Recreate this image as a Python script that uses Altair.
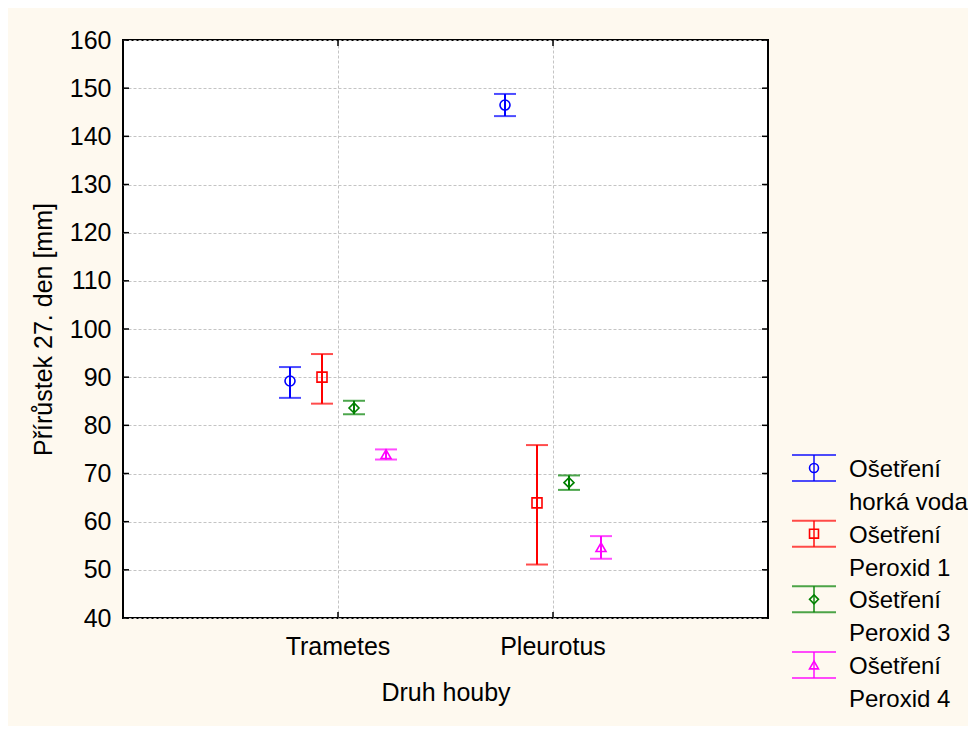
import altair as alt
import pandas as pd

species = ["Trametes", "Pleurotus"]
series = ["Ošetření horká voda", "Ošetření Peroxid 1", "Ošetření Peroxid 3", "Ošetření Peroxid 4"]
legend_line1 = ["Ošetření", "Ošetření", "Ošetření", "Ošetření"]
legend_line2 = ["horká voda", "Peroxid 1", "Peroxid 3", "Peroxid 4"]

mean_trametes = [89.2, 90.0, 83.6, 74.0]
low_trametes = [85.7, 84.5, 82.3, 72.9]
high_trametes = [92.1, 94.8, 85.1, 75.0]

mean_pleurotus = [146.5, 63.9, 68.1, 54.7]
low_pleurotus = [144.2, 51.1, 66.6, 52.3]
high_pleurotus = [148.8, 75.9, 69.6, 57.0]

y_ticks = [40, 50, 60, 70, 80, 90, 100, 110, 120, 130, 140, 150, 160]

colors = ["#0000FF", "#FF0000", "#008000", "#FF00FF"]
shapes = ["circle", "square", "diamond", "triangle-up"]

FONT = "Liberation Sans"
FS = 25
LFS = 24
W, H = 645, 578
BAND = W / 3.0

rows = []
for i, s in enumerate(series):
    rows.append({"druh": "Trametes", "serie": s, "mean": mean_trametes[i],
                 "lo": low_trametes[i], "hi": high_trametes[i]})
    rows.append({"druh": "Pleurotus", "serie": s, "mean": mean_pleurotus[i],
                 "lo": low_pleurotus[i], "hi": high_pleurotus[i]})
df = pd.DataFrame(rows)

x_scale = alt.Scale(domain=species, paddingInner=0, paddingOuter=0.5)
x_enc = alt.X("druh:N", sort=species, scale=x_scale,
              axis=alt.Axis(title="Druh houby", labelAngle=0, grid=True,
                            gridColor="#c4c4c4", gridDash=[3, 2], gridWidth=1,
                            tickSize=0, domain=False, labelPadding=16,
                            titlePadding=21))
xo_enc = alt.XOffset("serie:N", sort=series,
                     scale=alt.Scale(domain=series, paddingInner=0, paddingOuter=0,
                                     range=[BAND / 2 - 64, BAND / 2 + 64]))
color_enc = alt.Color("serie:N", scale=alt.Scale(domain=series, range=colors), legend=None)
shape_enc = alt.Shape("serie:N", scale=alt.Scale(domain=series, range=shapes), legend=None)
y_scale = alt.Scale(domain=[40, 160], nice=False, zero=False)

base = alt.Chart(df)

bars = base.mark_rule(strokeWidth=2).encode(
    x=x_enc, xOffset=xo_enc,
    y=alt.Y("lo:Q", scale=y_scale,
            axis=alt.Axis(title="Přírůstek 27. den [mm]", values=y_ticks, grid=True,
                          gridColor="#c4c4c4", gridDash=[3, 2], gridWidth=1,
                          tickSize=0, domain=False, labelPadding=12, titlePadding=13)),
    y2="hi:Q",
    color=color_enc,
)
cap_lo = base.mark_tick(orient="horizontal", size=22, thickness=2).encode(
    x=x_enc, xOffset=xo_enc, y=alt.Y("lo:Q", scale=y_scale), color=color_enc)
cap_hi = base.mark_tick(orient="horizontal", size=22, thickness=2).encode(
    x=x_enc, xOffset=xo_enc, y=alt.Y("hi:Q", scale=y_scale), color=color_enc)
points = base.mark_point(filled=False, size=100, strokeWidth=1.6, opacity=1).encode(
    x=x_enc, xOffset=xo_enc, y=alt.Y("mean:Q", scale=y_scale),
    color=color_enc, shape=shape_enc)

# inward axis ticks (mirrored on all sides)
ydf = pd.DataFrame({"v": y_ticks})
yt_left = alt.Chart(ydf).mark_rule(color="black", strokeWidth=1.5).encode(
    y=alt.Y("v:Q", scale=y_scale), x=alt.value(0), x2=alt.value(6))
yt_right = alt.Chart(ydf).mark_rule(color="black", strokeWidth=1.5).encode(
    y=alt.Y("v:Q", scale=y_scale), x=alt.value(W - 6), x2=alt.value(W))
xdf = pd.DataFrame({"druh": species})
xt_bottom = alt.Chart(xdf).mark_rule(color="black", strokeWidth=1.5).encode(
    x=alt.X("druh:N", sort=species, scale=x_scale),
    y=alt.value(H - 6), y2=alt.value(H))
xt_top = alt.Chart(xdf).mark_rule(color="black", strokeWidth=1.5).encode(
    x=alt.X("druh:N", sort=species, scale=x_scale),
    y=alt.value(0), y2=alt.value(6))

main = alt.layer(bars, cap_lo, cap_hi, points, yt_left, yt_right, xt_bottom, xt_top).properties(
    width=W, height=H,
    view=alt.ViewBackground(fill="white", stroke="black", strokeWidth=2),
)

# custom legend panel
ldf = pd.DataFrame({"serie": series, "l1": legend_line1, "l2": legend_line2})
ly = alt.Y("serie:N", sort=series,
           scale=alt.Scale(type="point", domain=series, range=[428, 625], padding=0),
           axis=None)
lcolor = alt.Color("serie:N", scale=alt.Scale(domain=series, range=colors), legend=None)
lshape = alt.Shape("serie:N", scale=alt.Scale(domain=series, range=shapes), legend=None)
lbase = alt.Chart(ldf)
SX = 24
TX = 59
l_cap_top = lbase.mark_tick(orient="horizontal", size=44, thickness=2, yOffset=-13).encode(
    y=ly, x=alt.value(SX), color=lcolor)
l_cap_bot = lbase.mark_tick(orient="horizontal", size=44, thickness=2, yOffset=13).encode(
    y=ly, x=alt.value(SX), color=lcolor)
l_vert = lbase.mark_tick(orient="vertical", size=26, thickness=2).encode(
    y=ly, x=alt.value(SX), color=lcolor)
l_pt = lbase.mark_point(filled=False, size=80, strokeWidth=1.6, opacity=1).encode(
    y=ly, x=alt.value(SX), color=lcolor, shape=lshape)
l_t1 = lbase.mark_text(align="left", baseline="middle", font=FONT, fontSize=LFS,
                       color="black", dy=2).encode(y=ly, x=alt.value(TX), text="l1:N")
l_t2 = lbase.mark_text(align="left", baseline="middle", font=FONT, fontSize=LFS,
                       color="black", dy=35).encode(y=ly, x=alt.value(TX), text="l2:N")
legend_panel = alt.layer(l_cap_top, l_cap_bot, l_vert, l_pt, l_t1, l_t2).properties(
    width=170, height=H,
    view=alt.ViewBackground(strokeOpacity=0, fillOpacity=0),
)

chart = alt.hconcat(main, legend_panel, spacing=20).properties(
    padding={"left": 22, "top": 19, "right": 0, "bottom": 14},
).configure(
    background="#FEF9EF",
    font=FONT,
).configure_axis(
    labelFont=FONT, labelFontSize=FS, labelColor="black",
    titleFont=FONT, titleFontSize=FS, titleFontWeight="normal", titleColor="black",
)

chart.save("out.html", embed_options={"renderer": "svg", "actions": False})
